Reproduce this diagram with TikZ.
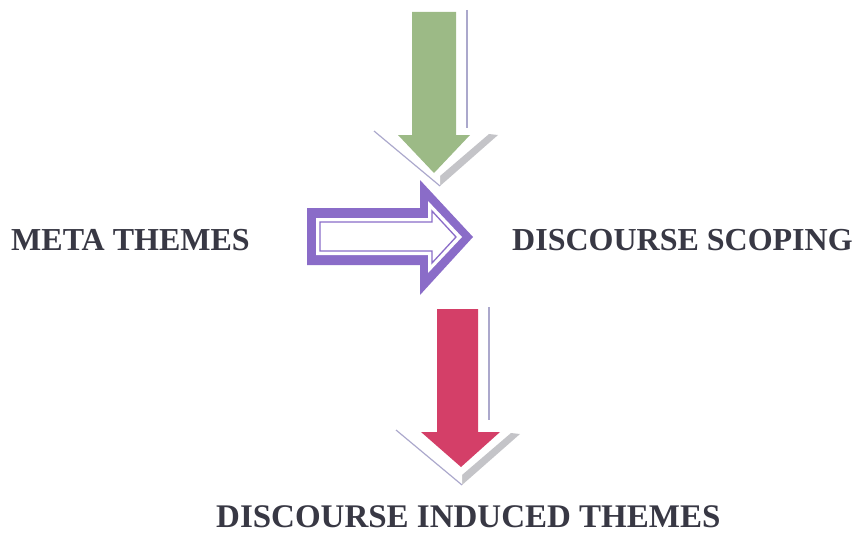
\documentclass[tikz,border=0pt]{standalone}
\usepackage{fontspec}
\setmainfont{Liberation Serif}
\definecolor{txt}{HTML}{383844}
\definecolor{leafgreen}{HTML}{9CBA86}
\definecolor{violet}{HTML}{8A6CC8}
\definecolor{rose}{HTML}{D43F68}
\definecolor{lavline}{HTML}{ABA8CC}
\definecolor{bevel}{HTML}{C4C4C8}
\tikzset{
  label/.style={font=\fontsize{32}{36}\selectfont\bfseries, text=txt, inner sep=0pt, anchor=base west},
  biglabel/.style={label, font=\fontsize{33}{37}\selectfont\bfseries},
  edgeline/.style={draw=lavline, line width=1.2pt},
}
\begin{document}
\begin{tikzpicture}[x=1pt,y=-1pt]
\useasboundingbox (0,0) rectangle (864,535);

% bevelled shadow behind a downward arrow: side line and V-shaped rim
\newcommand{\rimshadow}[5]{% #1 shaft-right line x, #2 line top, #3 line bottom, #4 V tip x, #5 V tip y
  \draw[edgeline] (#1,#2) -- (#1,#3);
  \fill[bevel] (#4,#5) -- (#4+58,#5-51) -- (#4+49,#5-52) -- (#4,#5-10) -- cycle;
  \fill[white] (#4,#5) -- (#4-66,#5-55) -- (#4-53,#5-55) -- (#4,#5-10) -- cycle;
  \draw[edgeline] (#4-66,#5-55) -- (#4,#5);
}

% top (green) arrow
\rimshadow{467}{10}{128}{440}{186}
\fill[leafgreen] (412,12) -- (456,12) -- (456,135) -- (470,135) -- (434,173)
  -- (398,135) -- (412,135) -- cycle;

% bottom (red) arrow
\rimshadow{489}{307}{420}{462}{485}
\fill[rose] (437,309) -- (478,309) -- (478,432) -- (500,432) -- (461,467)
  -- (421,432) -- (437,432) -- cycle;

% middle (purple) hollow arrow with an inner outline
\fill[violet] (307,208) -- (420,208) -- (420,180) -- (473,237) -- (420,295)
  -- (420,265) -- (307,265) -- cycle;
\fill[white] (316,218) -- (428,218) -- (428,201) -- (462,237) -- (428,273)
  -- (428,255) -- (316,255) -- cycle;
\draw[violet, line width=1.3pt] (320,222) -- (432,222) -- (432,211) -- (456,237)
  -- (432,263) -- (432,251) -- (320,251) -- cycle;

% labels
\node[label] (meta) at (11,250) {META THEMES};
\node[label] (scope) at (512,250) {DISCOURSE SCOPING};
\node[biglabel] (induced) at (216,527) {DISCOURSE INDUCED THEMES};
\end{tikzpicture}
\end{document}
